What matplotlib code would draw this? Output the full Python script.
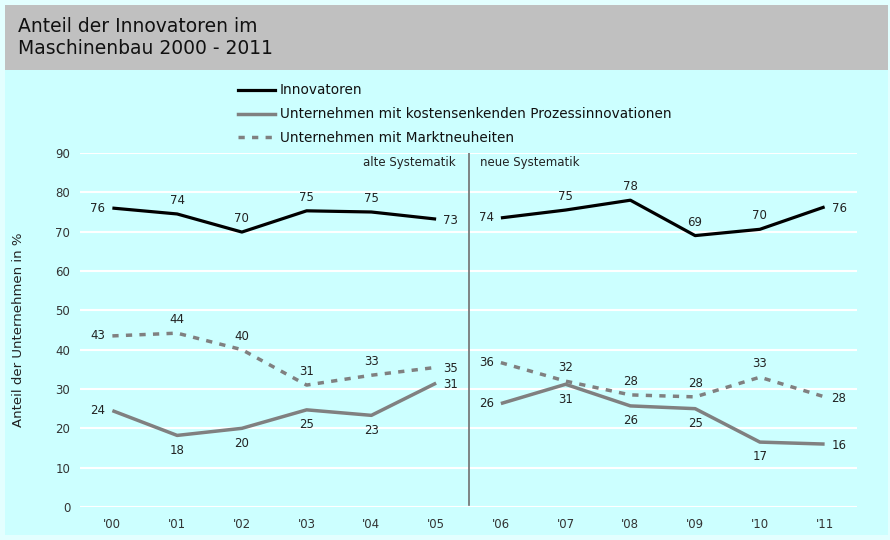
import matplotlib
matplotlib.use("Agg")
import matplotlib.pyplot as plt
from matplotlib.patches import Rectangle
from matplotlib.lines import Line2D

years = ["'00", "'01", "'02", "'03", "'04", "'05", "'06", "'07", "'08", "'09", "'10", "'11"]
innovatoren = [76.0, 74.5, 69.9, 75.3, 75.0, 73.2, 73.5, 75.5, 78.0, 69.0, 70.6, 76.3]
innovatoren_lbl = ["76", "74", "70", "75", "75", "73", "74", "75", "78", "69", "70", "76"]
prozess = [24.5, 18.2, 20.0, 24.7, 23.3, 31.5, 26.3, 31.2, 25.7, 25.0, 16.5, 16.0]
prozess_lbl = ["24", "18", "20", "25", "23", "31", "26", "31", "26", "25", "17", "16"]
markt = [43.5, 44.2, 40.0, 31.0, 33.5, 35.5, 36.7, 32.0, 28.5, 28.0, 33.0, 28.0]
markt_lbl = ["43", "44", "40", "31", "33", "35", "36", "32", "28", "28", "33", "28"]
yticks = [0, 10, 20, 30, 40, 50, 60, 70, 80, 90]

# label placement: l=left, r=right, a=above, b=below
innov_pos = ["l", "a", "a", "a", "a", "r", "l", "a", "a", "a", "a", "r"]
prozess_pos = ["l", "b", "b", "b", "b", "r", "l", "b", "b", "b", "b", "r"]
markt_pos = ["l", "a", "a", "a", "a", "r", "l", "a", "a", "a", "a", "r"]

W, H = 890, 540
fig = plt.figure(figsize=(W / 100, H / 100), dpi=100)
fig.patch.set_facecolor("#E3FFFF")
fig.patches.append(Rectangle((5 / W, 5 / H), 883 / W, 530 / H, transform=fig.transFigure,
                             facecolor="#CCFFFF", edgecolor="none", zorder=-2))
fig.patches.append(Rectangle((5 / W, 1 - 70 / H), 883 / W, 65 / H, transform=fig.transFigure,
                             facecolor="#C0C0C0", edgecolor="none", zorder=-1))
fig.text(18 / W, 1 - 26 / H, "Anteil der Innovatoren im", fontsize=13.5, va="center", ha="left", color="#111111")
fig.text(18 / W, 1 - 49 / H, "Maschinenbau 2000 - 2011", fontsize=13.5, va="center", ha="left", color="#111111")

ax = fig.add_axes([80 / W, 1 - 507 / H, 777 / W, 354 / H])
ax.set_zorder(2)
ax.set_facecolor("none")
for s in ax.spines.values():
    s.set_visible(False)
x = list(range(len(years)))
ax.set_xlim(-0.5, len(years) - 0.5)
ax.set_ylim(0, 90)
ax.set_yticks(yticks)
ax.set_xticks(x)
ax.set_xticklabels(years)
ax.tick_params(length=0, labelsize=8.5, colors="#333333", pad=8)
ax.tick_params(axis="y", pad=7)
ax.grid(axis="y", color="white", lw=1.5)
ax.set_axisbelow(True)
ax.set_ylabel("Anteil der Unternehmen in %", fontsize=9.5, color="#222222", labelpad=22)

split = 6
mdash = (1.8, 2.1)
styles = [
    (innovatoren, innovatoren_lbl, innov_pos, dict(color="black", lw=2.3)),
    (prozess, prozess_lbl, prozess_pos, dict(color="#808080", lw=2.5)),
    (markt, markt_lbl, markt_pos, dict(color="#808080", lw=2.5, dashes=mdash)),
]
for vals, lbls, pos, st in styles:
    ax.plot(x[:split], vals[:split], solid_capstyle="butt", **st)
    ax.plot(x[split:], vals[split:], solid_capstyle="butt", **st)
    for xi, v, lb, p in zip(x, vals, lbls, pos):
        if p == "a":
            off, ha, va = (0, 5), "center", "bottom"
        elif p == "b":
            off, ha, va = (0, -6), "center", "top"
        elif p == "l":
            off, ha, va = (-5, 0), "right", "center"
        else:
            off, ha, va = (5, -1), "left", "center"
        ax.annotate(lb, (xi, v), xytext=off, textcoords="offset points",
                    ha=ha, va=va, fontsize=8.5, color="#222222")

ax.axvline(5.5, ymin=0.005, ymax=1, color="#707070", lw=1.2)
ax.text(5.3, 87.6, "alte Systematik", ha="right", va="center", fontsize=8.5, color="#222222")
ax.text(5.68, 87.6, "neue Systematik", ha="left", va="center", fontsize=8.5, color="#222222")

handles = [
    Line2D([], [], color="black", lw=2.3),
    Line2D([], [], color="#808080", lw=2.5),
    Line2D([], [], color="#808080", lw=2.5, dashes=mdash),
]
labels = ["Innovatoren", "Unternehmen mit kostensenkenden Prozessinnovationen", "Unternehmen mit Marktneuheiten"]
leg = fig.legend(handles, labels, loc="upper left", bbox_to_anchor=(238 / W, 1 - 83.5 / H),
                 frameon=False, fontsize=9.8, handlelength=2.75, handletextpad=0.3,
                 labelspacing=0.72, borderaxespad=0, borderpad=0)
for t in leg.get_texts():
    t.set_color("#111111")

fig.savefig("out.png", dpi=100, facecolor=fig.get_facecolor())
